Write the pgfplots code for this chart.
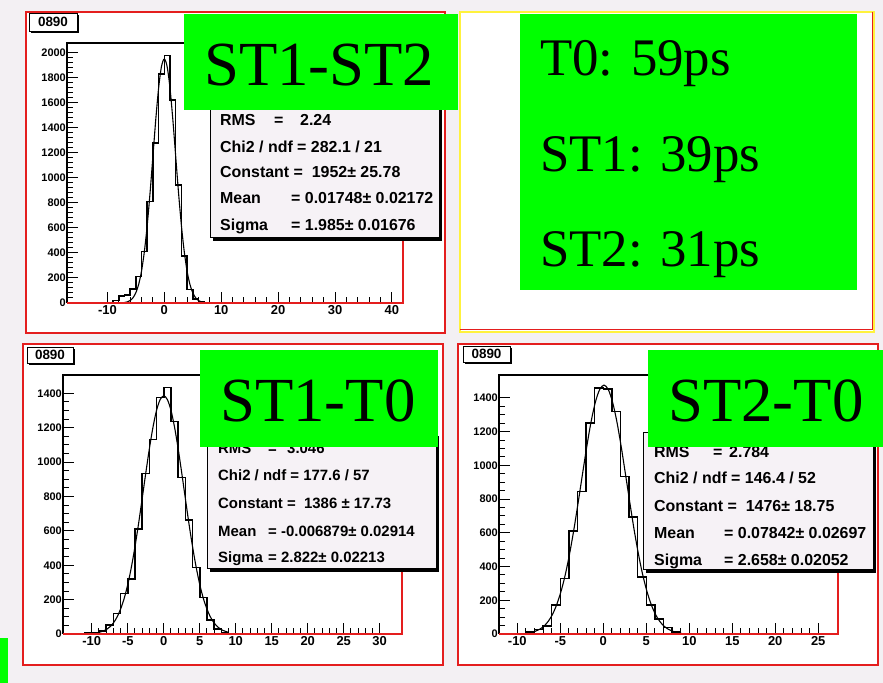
\documentclass[border=0pt]{standalone}
\usepackage{fontspec}
\setmainfont{Liberation Sans}
\newfontfamily\timesfont{Liberation Serif}
\usepackage{pgfplots}
\pgfplotsset{compat=1.18}

\definecolor{pagebg}{RGB}{243,240,243}
\definecolor{statbg}{RGB}{246,242,246}
\definecolor{taggreen}{RGB}{0,255,0}
\definecolor{framered}{RGB}{228,30,30}
\definecolor{frameyellow}{RGB}{255,242,60}

\newcommand{\statfont}{\fontsize{16}{16}\selectfont\bfseries}
\newcommand{\statfontsm}{\fontsize{15}{15}\selectfont\bfseries}
\newcommand{\bigfont}{\timesfont\fontsize{63}{63}\selectfont}
\newcommand{\resfont}{\timesfont\fontsize{53}{53}\selectfont}

% stats box with drop shadow: left, bottom, right, top
\newcommand{\statbox}[4]{%
  \fill[black] (#1+3,#2-3) rectangle (#3+3,#4-3);
  \filldraw[fill=statbg, draw=black, line width=1bp] (#1,#2) rectangle (#3,#4);}
% histogram id tag with drop shadow
\newcommand{\idtag}[4]{%
  \fill[black] (#1+2,#2-2) rectangle (#3+2,#4-2);
  \filldraw[fill=white, draw=black, line width=0.9bp] (#1,#2) rectangle (#3,#4);
  \node[font=\fontsize{13.5}{13.5}\selectfont\bfseries, inner sep=0] at ({(#1+#3)/2},{(#2+#4)/2}) {0890};}

\pgfplotsset{
  rootaxis/.style={
    scale only axis, clip=false,
    axis line style={draw=none},
    tick align=inside, xtick pos=left, ytick pos=left,
    major tick length=11bp, minor tick length=6bp,
    every tick/.append style={black, line width=1bp},
    minor x tick num=4,
    ymin=0,
    /pgf/number format/assume math mode=true,
    /pgf/number format/1000 sep={},
    yticklabel style={font=\fontsize{11}{11}\selectfont\bfseries, inner xsep=1bp},
    xticklabel style={font=\fontsize{13}{13}\selectfont\bfseries, inner ysep=2.5bp},
  },
  histo/.style={const plot mark left, black, line width=1.5bp, mark=none},
  fitline/.style={black, line width=1.1bp, smooth, mark=none},
}
\newcommand{\rootframe}{%
  \draw[black, line width=1.3bp] (rel axis cs:0,0) -- (rel axis cs:0,1) -- (rel axis cs:1,1);
  \draw[framered, line width=1.7bp] (rel axis cs:1,1) -- (rel axis cs:1,0) -- (rel axis cs:0,0);}

\begin{document}
\begin{tikzpicture}[x=1bp, y=1bp]
\clip (0,0) rectangle (883,683);
\fill[pagebg] (0,0) rectangle (883,683);
\fill[taggreen] (0,0) rectangle (8,45);
% lower-left corners of the three plot areas
\coordinate (boxA) at (67,380);
\coordinate (boxB) at (63,49);
\coordinate (boxC) at (499,49);

% ---------- ST1 - ST2 ----------
\filldraw[fill=white, draw=framered, line width=2bp] (26,350) rectangle (445,671);
\idtag{29}{652}{77}{670}
\begin{axis}[rootaxis, at={(boxA)}, anchor=south west, width=336bp, height=260bp,
  xmin=-17.1, xmax=41.95, ymax=2080,
  xtick={-10,0,10,20,30,40}, ytick={0,200,...,2000}, minor y tick num=4]
\addplot[histo] coordinates {
 (-9,0) (-9,20) (-8,55) (-7,65) (-6,110) (-5,210) (-4,410) (-3,810) (-2,1280)
 (-1,1830) (0,1980) (1,1625) (2,945) (3,375) (4,107) (5,30) (6,8) (7,0)};
\addplot[fitline] coordinates {
 (-7,4) (-6.5,9) (-6,20) (-5.5,42) (-5,82) (-4.5,150) (-4,256) (-3.5,413) (-3,623)
 (-2.5,883) (-2,1175) (-1.5,1467) (-1,1719) (-0.5,1891) (0,1952) (0.5,1891) (1,1719)
 (1.5,1467) (2,1175) (2.5,883) (3,623) (3.5,413) (4,256) (4.5,150) (5,82) (5.5,42)
 (6,20) (6.5,9) (7,4)};
\rootframe
\end{axis}
\statbox{210}{445}{439}{590}
\begin{scope}
\clip (210,445) rectangle (438,590);
\node[anchor=base west, inner sep=0, font=\statfont] at (220,557) {RMS};
\node[anchor=base west, inner sep=0, font=\statfont] at (274,557) {=};
\node[anchor=base west, inner sep=0, font=\statfont] at (300,557) {2.24};
\node[anchor=base west, inner sep=0, font=\statfont] at (220,530) {Chi2 / ndf = 282.1 / 21};
\node[anchor=base west, inner sep=0, font=\statfont] at (220,505) {Constant =\ \ 1952± 25.78};
\node[anchor=base west, inner sep=0, font=\statfont] at (220,479) {Mean};
\node[anchor=base west, inner sep=0, font=\statfont] at (291,479) {= 0.01748± 0.02172};
\node[anchor=base west, inner sep=0, font=\statfont] at (220,452) {Sigma};
\node[anchor=base west, inner sep=0, font=\statfont] at (291,452) {= 1.985± 0.01676};
\end{scope}
\fill[taggreen] (184,573) rectangle (458,669);
\node[anchor=base west, inner sep=0, font=\bigfont] at (204,597) {ST1-ST2};

% ---------- resolutions ----------
\fill[white] (460,351) rectangle (874,671);
\draw[frameyellow, line width=2bp] (460,351) rectangle (874,671);
\draw[framered, line width=1bp] (872,671) -- (872,353) -- (460,353);
\fill[taggreen] (520,393) rectangle (857,669);
\node[anchor=base west, inner sep=0, font=\resfont] at (540,607) {T0: 59ps};
\node[anchor=base west, inner sep=0, font=\resfont] at (540,511.3) {ST1: 39ps};
\node[anchor=base west, inner sep=0, font=\resfont] at (540,416.3) {ST2: 31ps};

% ---------- ST1 - T0 ----------
\filldraw[fill=white, draw=framered, line width=2bp] (23,18) rectangle (443,339);
\idtag{27}{320}{73}{336}
\begin{axis}[rootaxis, at={(boxB)}, anchor=south west, width=339bp, height=259bp,
  xmin=-14.0, xmax=33.1, ymax=1507,
  xtick={-10,-5,...,30}, ytick={0,200,...,1400}, minor y tick num=3]
\addplot[histo] coordinates {
 (-11,0) (-11,5) (-10,8) (-9,17) (-8,52) (-7,120) (-6,237) (-5,320) (-4,610) (-3,935)
 (-2,1132) (-1,1375) (0,1433) (1,1235) (2,911) (3,663) (4,386) (5,211) (6,81) (7,29)
 (8,8) (9,0)};
\addplot[fitline] coordinates {
 (-9,9) (-8,25) (-7.5,41) (-7,64) (-6.5,98) (-6,145) (-5.5,207) (-5,288) (-4.5,389)
 (-4,508) (-3.5,642) (-3,788) (-2.5,936) (-2,1078) (-1.5,1203) (-1,1302) (-0.5,1364)
 (0,1386) (0.5,1364) (1,1302) (1.5,1203) (2,1078) (2.5,936) (3,788) (3.5,642) (4,508)
 (4.5,389) (5,288) (5.5,207) (6,145) (6.5,98) (7,64) (7.5,41) (8,25) (9,9)};
\rootframe
\end{axis}
\statbox{207}{114}{436}{250}
\begin{scope}
\clip (207,114) rectangle (435,250);
\node[anchor=base west, inner sep=0, font=\statfontsm] at (218,229) {RMS};
\node[anchor=base west, inner sep=0, font=\statfontsm] at (268,229) {=};
\node[anchor=base west, inner sep=0, font=\statfontsm] at (287,229) {3.046};
\node[anchor=base west, inner sep=0, font=\statfontsm] at (218,202) {Chi2 / ndf = 177.6 / 57};
\node[anchor=base west, inner sep=0, font=\statfontsm] at (218,174) {Constant =\ \ 1386 ± 17.73};
\node[anchor=base west, inner sep=0, font=\statfontsm] at (218,146) {Mean};
\node[anchor=base west, inner sep=0, font=\statfontsm] at (268,146) {= -0.006879± 0.02914};
\node[anchor=base west, inner sep=0, font=\statfontsm] at (218,120) {Sigma};
\node[anchor=base west, inner sep=0, font=\statfontsm] at (268,120) {= 2.822± 0.02213};
\end{scope}
\fill[taggreen] (200,236) rectangle (438,333);
\node[anchor=base west, inner sep=0, font=\bigfont] at (220,261.3) {ST1-T0};

% ---------- ST2 - T0 ----------
\filldraw[fill=white, draw=framered, line width=2bp] (458,18) rectangle (878,339);
\idtag{463}{321}{510}{337}
\begin{axis}[rootaxis, at={(boxC)}, anchor=south west, width=339bp, height=259bp,
  xmin=-12.13, xmax=27.3, ymax=1536,
  xtick={-10,-5,...,25}, ytick={0,200,...,1400}, minor y tick num=3]
\addplot[histo] coordinates {
 (-10,0) (-10,4) (-9,12) (-8,28) (-7,48) (-6,172) (-5,328) (-4,612) (-3,845) (-2,1252)
 (-1,1460) (0,1452) (1,1320) (2,934) (3,695) (4,337) (5,172) (6,90) (7,38) (8,12)
 (9,4) (10,0)};
\addplot[fitline] coordinates {
 (-8.92,4.8) (-7.92,16) (-7.42,27.5) (-6.92,46) (-6.42,74) (-5.92,115) (-5.42,174)
 (-4.92,252) (-4.42,352) (-3.92,476) (-3.42,620) (-2.92,781) (-2.42,948) (-1.92,1112)
 (-1.42,1259) (-0.92,1375) (-0.42,1450) (0.08,1476) (0.58,1450) (1.08,1375) (1.58,1259)
 (2.08,1112) (2.58,948) (3.08,781) (3.58,620) (4.08,476) (4.58,352) (5.08,252)
 (5.58,174) (6.08,115) (6.58,74) (7.08,46) (7.58,27.5) (8.08,16) (9.08,4.8)};
\rootframe
\end{axis}
\statbox{643}{113}{873}{250}
\begin{scope}
\clip (643,113) rectangle (872,250);
\node[anchor=base west, inner sep=0, font=\statfont] at (654,225.3) {RMS};
\node[anchor=base west, inner sep=0, font=\statfont] at (713,225.3) {=};
\node[anchor=base west, inner sep=0, font=\statfont] at (729,225.3) {2.784};
\node[anchor=base west, inner sep=0, font=\statfont] at (654,199) {Chi2 / ndf = 146.4 / 52};
\node[anchor=base west, inner sep=0, font=\statfont] at (654,171.3) {Constant =\ \ 1476± 18.75};
\node[anchor=base west, inner sep=0, font=\statfont] at (654,144) {Mean};
\node[anchor=base west, inner sep=0, font=\statfont] at (724,144) {= 0.07842± 0.02697};
\node[anchor=base west, inner sep=0, font=\statfont] at (654,117) {Sigma};
\node[anchor=base west, inner sep=0, font=\statfont] at (724,117) {= 2.658± 0.02052};
\end{scope}
\fill[taggreen] (648,236) rectangle (883,333);
\node[anchor=base west, inner sep=0, font=\bigfont] at (668,261.3) {ST2-T0};
\end{tikzpicture}
\end{document}
